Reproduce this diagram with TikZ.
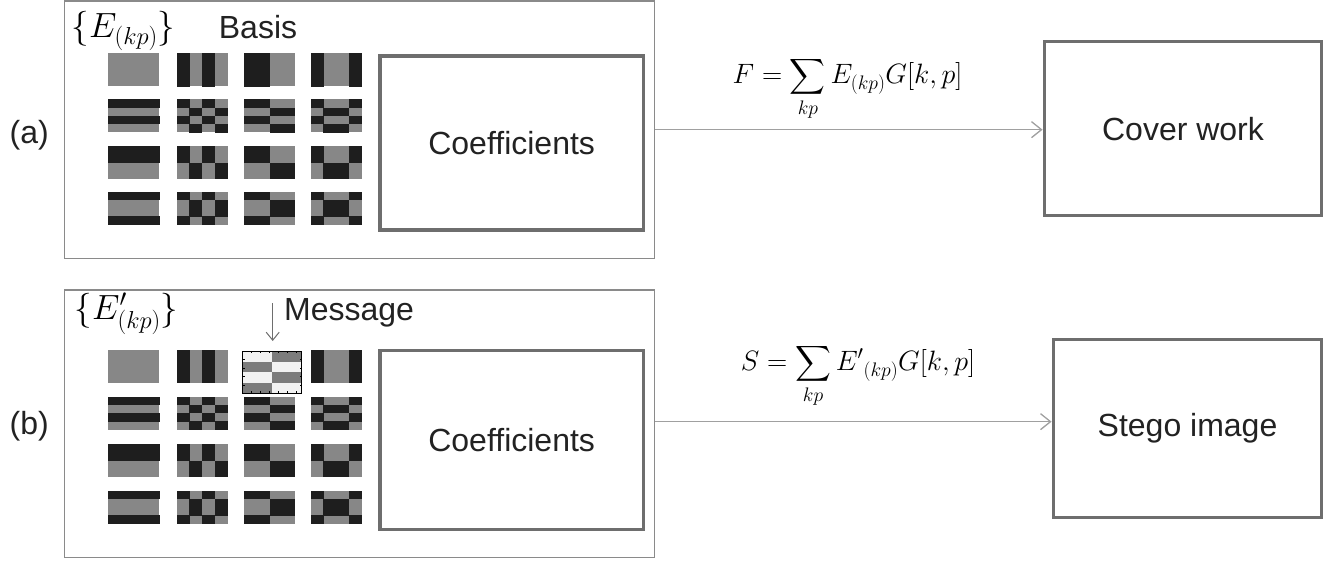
\documentclass[tikz,border=0pt]{standalone}
\usepackage{fix-cm}
\usepackage{amsmath}
\usepackage{fontspec}
\setmainfont{Liberation Sans}
\usetikzlibrary{arrows.meta}
\definecolor{tblack}{HTML}{1E1E1E}
\definecolor{tgray}{HTML}{878787}
\definecolor{mwhite}{HTML}{F2F2F2}
\definecolor{mgray}{HTML}{7C7C7C}
\definecolor{outergray}{HTML}{8A8A8A}
\definecolor{boxgray}{HTML}{6E6E6E}
\definecolor{arrowgray}{HTML}{A0A0A0}
\definecolor{txt}{HTML}{222222}
% bit of basis pattern #1 at position #2 (1 = dark)
\newcommand\patbit[2]{\ifcase#1 1\or\ifodd#2 0\else1\fi\or\ifnum#2<2 1\else0\fi\or\ifnum#2=0 1\else\ifnum#2=3 1\else0\fi\fi\fi}
% tile: x y k p
\newcommand\basistile[4]{%
  \fill[tgray] (#1,#2) rectangle ++(51,33);
  \ifnum#3#4=0 \else
  \foreach \i in {0,...,3}{\foreach \j in {0,...,3}{%
    \edef\cb{\patbit{#3}{\j}}\edef\rb{\patbit{#4}{\i}}%
    \ifnum\cb=\rb
      \fill[tblack] (#1+\j*12.75,#2+\i*8.25) rectangle ++(12.95,8.45);
    \fi}}%
  \fi}
\begin{document}
\begin{tikzpicture}[x=1pt,y=-1pt,
  font=\fontsize{32}{38}\selectfont, text=txt,
  outerbox/.style={draw=outergray, line width=1.3pt, inner sep=0pt},
  heavybox/.style={draw=boxgray, line width=3.5pt, inner sep=0pt},
  conn/.style={draw=arrowgray, line width=1.3pt, -{Straight Barb[length=10pt,width=16pt]}},
  formula/.style={font=\fontsize{28}{34}\selectfont, text=black, inner sep=0pt},
  setlabel/.style={font=\fontsize{35}{40}\selectfont, text=black, inner sep=0pt}]
\useasboundingbox (0,0) rectangle (1338,563);

% panel labels
\node (la) at (29.3,135) {(a)};
\node (lb) at (29.3,426.7) {(b)};

% outer boxes
\node[outerbox, minimum width=590pt, minimum height=257.3pt] (outerA) at (359.3,129.65) {};
\node[outerbox, minimum width=590pt, minimum height=267.3pt] (outerB) at (359.3,423.65) {};

% coefficient boxes
\node[heavybox, minimum width=263.3pt, minimum height=174pt] (coefA) at (511.65,143) {Coefficients};
\node[heavybox, minimum width=263.3pt, minimum height=178.6pt] (coefB) at (511.65,440) {Coefficients};

% result boxes
\node[heavybox, minimum width=277.4pt, minimum height=174pt] (cover) at (1183,128.7) {Cover work};
\node[heavybox, minimum width=268.4pt, minimum height=178pt] (stego) at (1187.5,428.3) {Stego image};

% set labels
\node[setlabel] (EA) at (123.5,31) {$\{E_{(kp)}\}$};
\node (basis) at (258,27) {Basis};
\node[setlabel] (EB) at (126.5,314) {$\{E'_{(kp)}\}$};
\node[anchor=west, inner sep=0pt] (msg) at (284,313) {Message};

% basis tiles (a)
\foreach \k/\x in {0/108.3,1/176.7,2/244,3/310.7}{
  \foreach \p/\y in {0/53.3,1/99.3,2/146,3/191.7}{
    \basistile{\x}{\y}{\k}{\p}
  }}
% basis tiles (b)
\foreach \k/\x in {0/108.3,1/176.7,2/244,3/310.7}{
  \foreach \p/\y in {0/350,1/396.7,2/444,3/490.7}{
    \ifnum\k\p=20 \else \basistile{\x}{\y}{\k}{\p}\fi
  }}

% message tile
\fill[mgray] (242.7,351) rectangle (301.7,393.3);
\foreach \i in {0,2}{
  \fill[mwhite] (242.7,351+\i*10.575) rectangle ++(29.5,10.575);
  \fill[mwhite] (272.2,351+\i*10.575+10.575) rectangle ++(29.5,10.575);
}
\draw[black, line width=1pt] (242.7,351) rectangle (301.7,393.3);
\foreach \t in {0.15,0.3,0.45,0.6,0.75,0.9}{
  \draw[black, line width=0.6pt] (242.7+\t*59,351) -- ++(0,2);
  \draw[black, line width=0.6pt] (242.7+\t*59,393.3) -- ++(0,-2);
}
\foreach \t in {0.2,0.4,0.6,0.8}{
  \draw[black, line width=0.6pt] (242.7,351+\t*42.3) -- ++(2,0);
  \draw[black, line width=0.6pt] (301.7,351+\t*42.3) -- ++(-2,0);
}
\coordinate (msgtop) at (272.7,303);
\coordinate (msgbot) at (272.7,341);
\draw[draw=boxgray, line width=1pt, -{Straight Barb[length=8pt,width=13pt]}] (msgtop) -- (msgbot);

% connectors
\draw[conn] (outerA.east) -- (outerA.east -| cover.west);
\draw[conn] ([yshift=2pt]outerB.east) -- ([yshift=2pt]outerB.east -| stego.west);

% formulas
\node[formula] (fa) at (847.5,89) {$\displaystyle F=\sum_{kp} E_{(kp)}G[k,p]$};
\node[formula] (fb) at (858,376) {$\displaystyle S=\sum_{kp} {E'}_{(kp)}G[k,p]$};
\end{tikzpicture}
\end{document}
